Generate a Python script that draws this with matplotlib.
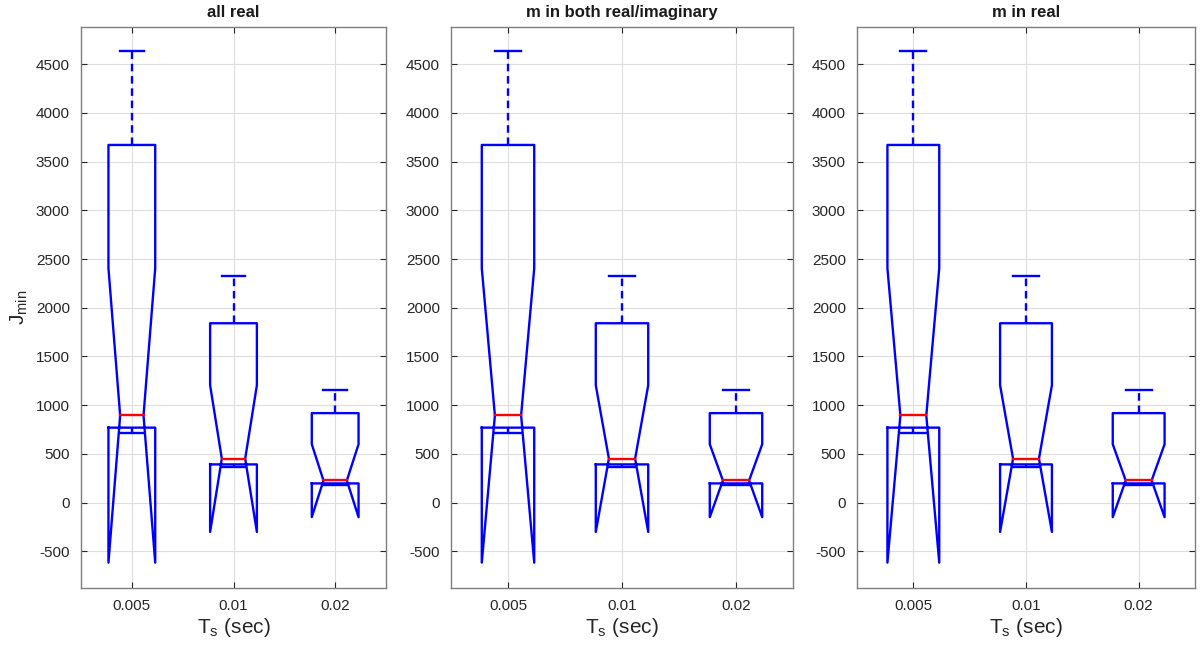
import matplotlib
matplotlib.use("Agg")
import matplotlib.pyplot as plt
import numpy as np

plt.rcParams['font.family'] = ['Liberation Sans', 'DejaVu Sans']
plt.rcParams['axes.unicode_minus'] = False

titles = ['all real', 'm in both real/imaginary', 'm in real']
ts_labels = ['0.005', '0.01', '0.02']

# box stats (same in all three panels)
whisk_lo = [720, 365, 184]
q1 = [770, 393, 198]
med = [895, 452, 228]
q3 = [3670, 1841, 919]
whisk_hi = [4630, 2326, 1158]
notch_lo = [-615, -300, -148]
notch_hi = [2405, 1205, 600]

# axes positions in figure fraction (left, bottom, width, height)
positions = [[81/1200, 60/648, 305/1200, 561/648],
             [451/1200, 60/648, 342/1200, 561/648],
             [857/1200, 60/648, 338/1200, 561/648]]

hw = 0.23   # box half width
nw = 0.115  # notch / cap half width
blue = '#0000ff'
axcol = '#7f7f7f'
lw = 1.7

fig = plt.figure(figsize=(12, 6.48), dpi=100)

for k, title in enumerate(titles):
    ax = fig.add_axes(positions[k])
    for i in range(len(ts_labels)):
        x = i + 1
        xs = [x - hw, x - hw, x - nw, x - hw, x - hw, x + hw, x + hw, x + nw, x + hw, x + hw, x - hw]
        ys = [q1[i], notch_lo[i], med[i], notch_hi[i], q3[i], q3[i], notch_hi[i], med[i], notch_lo[i], q1[i], q1[i]]
        ax.plot(xs, ys, color=blue, lw=lw, zorder=3)
        # whiskers
        ax.plot([x, x], [q3[i], whisk_hi[i]], color=blue, lw=lw, ls=(0, (3.2, 2)), zorder=3)
        ax.plot([x, x], [q1[i], whisk_lo[i]], color=blue, lw=lw, ls=(0, (3.2, 2)), zorder=3)
        ax.plot([x - nw, x + nw], [whisk_hi[i], whisk_hi[i]], color=blue, lw=lw, zorder=3)
        ax.plot([x - nw, x + nw], [whisk_lo[i], whisk_lo[i]], color=blue, lw=lw, zorder=3)
        # median
        ax.plot([x - nw, x + nw], [med[i], med[i]], color='red', lw=lw, zorder=4)

    ax.set_xlim(0.5, 3.5)
    ax.set_ylim(-875, 4880)
    ax.set_xticks([1, 2, 3])
    ax.set_xticklabels(ts_labels)
    ax.set_yticks(np.arange(-500, 4501, 500))
    ax.grid(True, color='#dedede', lw=0.8)
    ax.set_axisbelow(True)
    ax.tick_params(direction='in', top=True, right=True, labelsize=11,
                   colors='#262626', length=4, width=0.8, pad=8)
    for sp in ax.spines.values():
        sp.set_color(axcol)
        sp.set_linewidth(1.0)
    ax.set_title(title, fontsize=12, fontweight='bold', color='#1a1a1a', pad=7)
    ax.set_xlabel(r'T$_\mathregular{s}$ (sec)', fontsize=15, color='#262626', labelpad=2)
    if k == 0:
        ax.set_ylabel(r'J$_\mathregular{min}$', fontsize=15, color='#262626', labelpad=4)

fig.savefig('out.png', dpi=100)
